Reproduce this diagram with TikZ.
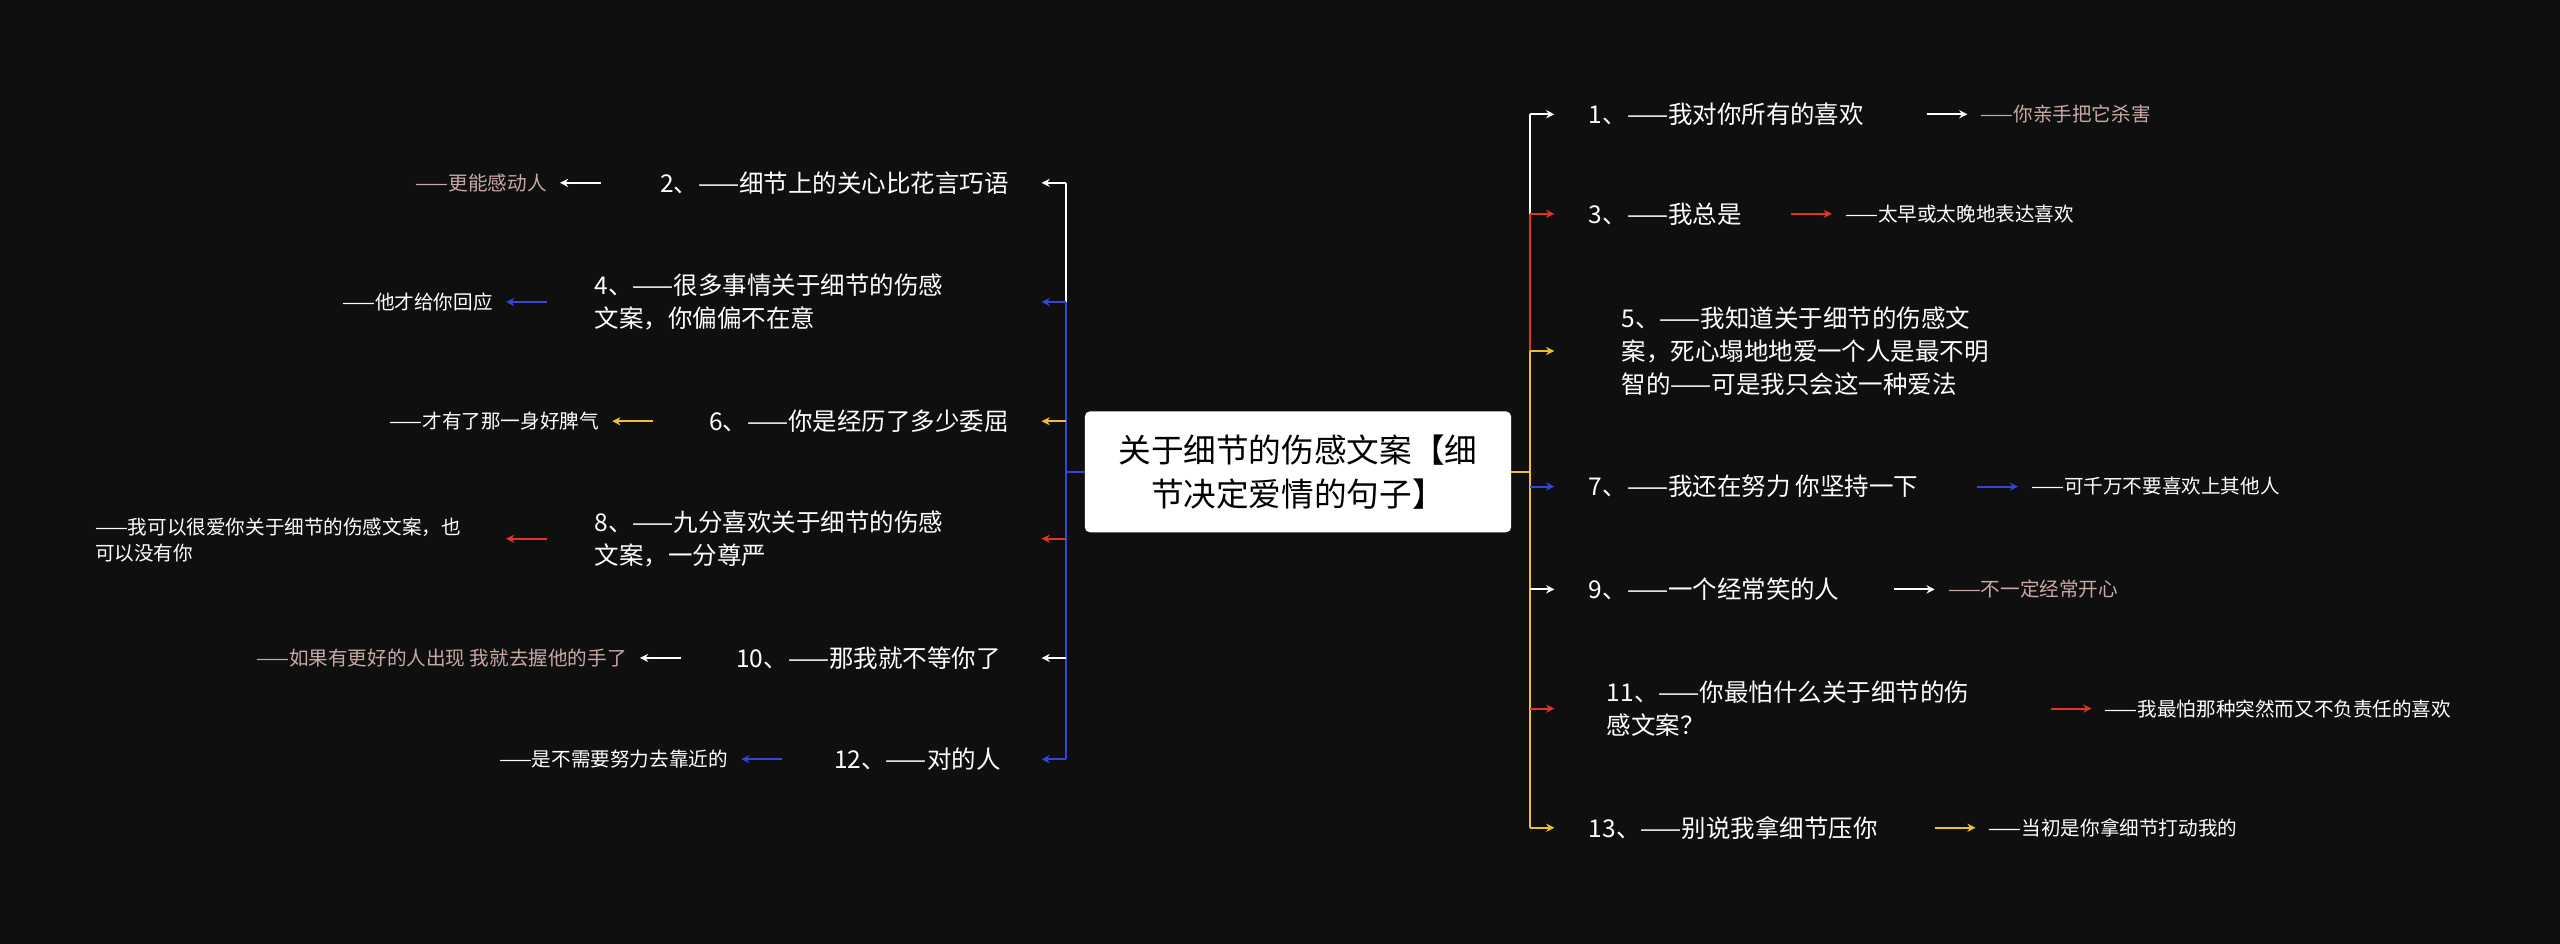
\documentclass[tikz,border=0pt]{standalone}
\usepackage{fontspec}
\setmainfont{Noto Sans CJK SC}
\usetikzlibrary{arrows.meta}
\definecolor{bg}{HTML}{0F0F0F}
\definecolor{cw}{HTML}{FFFFFF}
\definecolor{cr}{HTML}{E0352B}
\definecolor{cb}{HTML}{3347D6}
\definecolor{cy}{HTML}{F0BE2E}
\definecolor{cg}{HTML}{C9A9A6}
\tikzset{
 br/.style={font=\fontsize{15}{20}\selectfont, text=white, inner sep=0pt, align=left},
 lf/.style={font=\fontsize{12}{16}\selectfont, text=white, inner sep=0pt, align=left},
 lg/.style={lf, text=cg},
 ar/.style={line width=1.2pt, -{Stealth[length=5pt,width=5pt]}},
 tr/.style={line width=1.3pt},
}
\begin{document}
\begin{tikzpicture}[x=1pt,y=-1pt]
\fill[bg] (0,0) rectangle (1568,578);
\useasboundingbox (0,0) rectangle (1568,578);
\node[fill=white, rounded corners=3pt, minimum width=261pt, minimum height=74pt, align=center, font=\fontsize{20}{27}\selectfont, text=black] (c) at (795,289) {关于细节的伤感文案【细\\节决定爱情的句子】};
% right trunk
\coordinate (rt) at (937,289);
\foreach \n/\y in {1/70,3/131,5/215,7/298,9/361,11/434,13/507}{\coordinate (r\n) at (937,\y);}
\draw[tr,cy] (c.east) -- (rt);
\draw[tr,cw] (r1) -- (r3);
\draw[tr,cr] (r3) -- (r5);
\draw[tr,cy] (r5) -- (r13);
% right branches
\node[br,anchor=west] (b1) at (973,70) {1、——我对你所有的喜欢};
\node[br,anchor=west] (b3) at (973,131) {3、——我总是};
\node[br,anchor=west] (b5) at (993,215) {5、——我知道关于细节的伤感文\\案，死心塌地地爱一个人是最不明\\智的——可是我只会这一种爱法};
\node[br,anchor=west] (b7) at (973,298) {7、——我还在努力 你坚持一下};
\node[br,anchor=west] (b9) at (973,361) {9、——一个经常笑的人};
\node[br,anchor=west] (b11) at (984,434) {11、——你最怕什么关于细节的伤\\感文案？};
\node[br,anchor=west] (b13) at (973,507) {13、——别说我拿细节压你};
\draw[ar,cw] (r1) -- ++(15,0);
\draw[ar,cr] (r3) -- ++(15,0);
\draw[ar,cy] (r5) -- ++(15,0);
\draw[ar,cb] (r7) -- ++(15,0);
\draw[ar,cw] (r9) -- ++(15,0);
\draw[ar,cr] (r11) -- ++(15,0);
\draw[ar,cy] (r13) -- ++(15,0);
\node[lg,anchor=west] (l1) at (1213,70) {——你亲手把它杀害};
\node[lf,anchor=west] (l3) at (1130,131) {——太早或太晚地表达喜欢};
\node[lf,anchor=west] (l7) at (1244,298) {——可千万不要喜欢上其他人};
\node[lg,anchor=west] (l9) at (1193,361) {——不一定经常开心};
\node[lf,anchor=west] (l11) at (1289,434) {——我最怕那种突然而又不负责任的喜欢};
\node[lf,anchor=west] (l13) at (1218,507) {——当初是你拿细节打动我的};
\draw[ar,cw] ([xshift=-33pt]l1.west) -- ([xshift=-8pt]l1.west);
\draw[ar,cr] ([xshift=-33pt]l3.west) -- ([xshift=-8pt]l3.west);
\draw[ar,cb] ([xshift=-33pt]l7.west) -- ([xshift=-8pt]l7.west);
\draw[ar,cw] ([xshift=-33pt]l9.west) -- ([xshift=-8pt]l9.west);
\draw[ar,cr] ([xshift=-33pt]l11.west) -- ([xshift=-8pt]l11.west);
\draw[ar,cy] ([xshift=-33pt]l13.west) -- ([xshift=-8pt]l13.west);
% left trunk
\coordinate (lt) at (653,289);
\foreach \n/\y in {2/112,4/185,6/258,8/330,10/403,12/465}{\coordinate (q\n) at (653,\y);}
\draw[tr,cb] (c.west) -- (lt);
\draw[tr,cw] (q2) -- (q4);
\draw[tr,cb] (q4) -- (q12);
\node[br,anchor=east] (b2) at (618,112) {2、——细节上的关心比花言巧语};
\node[br,anchor=west] (b4) at (364,185) {4、——很多事情关于细节的伤感\\文案，你偏偏不在意};
\node[br,anchor=east] (b6) at (618,258) {6、——你是经历了多少委屈};
\node[br,anchor=west] (b8) at (364,330) {8、——九分喜欢关于细节的伤感\\文案，一分尊严};
\node[br,anchor=east] (b10) at (613,403) {10、——那我就不等你了};
\node[br,anchor=east] (b12) at (613,465) {12、——对的人};
\draw[ar,cw] (q2) -- ++(-15,0);
\draw[ar,cb] (q4) -- ++(-15,0);
\draw[ar,cy] (q6) -- ++(-15,0);
\draw[ar,cr] (q8) -- ++(-15,0);
\draw[ar,cw] (q10) -- ++(-15,0);
\draw[ar,cb] (q12) -- ++(-15,0);
\node[lg,anchor=east] (l2) at (335,112) {——更能感动人};
\node[lf,anchor=east] (l4) at (302,185) {——他才给你回应};
\node[lf,anchor=east] (l6) at (367,258) {——才有了那一身好脾气};
\node[lf,anchor=west] (l8) at (58,331) {——我可以很爱你关于细节的伤感文案，也\\可以没有你};
\node[lg,anchor=east] (l10) at (384,403) {——如果有更好的人出现 我就去握他的手了};
\node[lf,anchor=east] (l12) at (446,465) {——是不需要努力去靠近的};
\draw[ar,cw] ([xshift=33pt]l2.east) -- ([xshift=8pt]l2.east);
\draw[ar,cb] ([xshift=33pt]l4.east) -- ([xshift=8pt]l4.east);
\draw[ar,cy] ([xshift=33pt]l6.east) -- ([xshift=8pt]l6.east);
\draw[ar,cr] (335,330) -- (310,330);
\draw[ar,cw] ([xshift=33pt]l10.east) -- ([xshift=8pt]l10.east);
\draw[ar,cb] ([xshift=33pt]l12.east) -- ([xshift=8pt]l12.east);
\end{tikzpicture}
\end{document}
